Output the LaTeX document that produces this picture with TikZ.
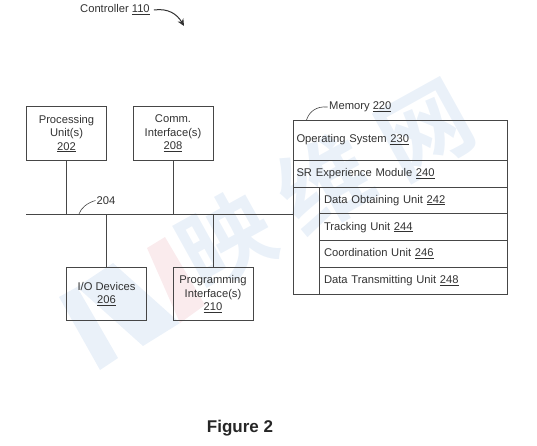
\documentclass[tikz,border=0pt]{standalone}
\usepackage{fontspec}
\setmainfont{Liberation Sans}
\newfontfamily\cjkfont{Noto Sans CJK SC}[BoldFont={* Bold}]
\usetikzlibrary{positioning,arrows.meta}
\definecolor{inkgrey}{RGB}{50,50,50}
\definecolor{linegrey}{RGB}{70,70,70}
\definecolor{markblue}{RGB}{234,241,249}
\definecolor{markpink}{RGB}{250,235,237}
\newcommand{\refnum}[1]{\underline{#1}}

\begin{document}
\begin{tikzpicture}[x=1pt,y=-1pt,
          every node/.style={text=inkgrey,font=\fontsize{11.2}{13.5}\selectfont},
          unitbox/.style={draw=linegrey,line width=0.8pt,minimum width=80pt,
            minimum height=53.5pt,inner sep=0pt,outer sep=0pt,align=center},
          osrow/.style={draw=linegrey,line width=0.8pt,minimum width=214pt,
            minimum height=40pt,inner sep=0pt,outer sep=0pt,inner xsep=3.5pt,
            text width=207pt,align=left},
          subrow/.style={draw=linegrey,line width=0.8pt,minimum width=187.5pt,
            minimum height=26.75pt,inner sep=0pt,outer sep=0pt,inner xsep=4.5pt,
            text width=178.5pt,align=left},
          wire/.style={draw=linegrey,line width=0.8pt},
          leader/.style={draw=linegrey,line width=0.6pt}]
        \useasboundingbox (0,0) rectangle (537,446);

        % watermark
        \fill[markblue] (59,297) -- (77,287) -- (118,358) -- (100,370) -- cycle;
        \fill[markblue] (77,287) -- (113,263) -- (180,323) -- (143,346) -- cycle;
        \fill[markpink] (147,248) -- (165,237) -- (205,305) -- (180,323) -- cycle;
        \node[rotate=29,text=markblue,inner sep=0pt,
            font=\cjkfont\fontsize{92}{92}\selectfont\bfseries]
          (markcn) at (325,184) {映\hspace{22pt}维\hspace{22pt}网};

        \node[unitbox] (proc) at (66.5,133.5)
          {Processing\\Unit(s)\\\refnum{202}};
        \node[unitbox,right=26.5pt of proc] (comm)
          {Comm.\\Interface(s)\\\refnum{208}};
        \node[unitbox] (iodev) at (106.5,294)
          {I/O Devices\\\refnum{206}};
        \node[unitbox,right=26.5pt of iodev] (prog)
          {Programming\\Interface(s)\\\refnum{210}};

        % memory column
        \node[osrow] (os) at (400,140) {Operating System \refnum{230}};
        \node[osrow,below=0pt of os,minimum height=27pt] (srmod)
          {\raisebox{2.5pt}{SR Experience Module \refnum{240}}};
        \node[subrow,anchor=north east] (obtain) at (srmod.south east)
          {Data Obtaining Unit \refnum{242}};
        \node[subrow,below=0pt of obtain] (track) {Tracking Unit \refnum{244}};
        \node[subrow,below=0pt of track] (coord) {Coordination Unit \refnum{246}};
        \node[subrow,below=0pt of coord] (trans)
          {Data Transmitting Unit \refnum{248}};
        \draw[wire] (srmod.south west) -- (srmod.south west |- trans.south)
          -- (trans.south west);

        % bus
        \coordinate (busl) at (26,214);
        \coordinate (busr) at (srmod.west |- busl);
        \draw[wire,line width=1pt] (busl) -- (busr);
        \draw[wire] (proc) -- (proc |- busl);
        \draw[wire] (comm) -- (comm |- busl);
        \draw[wire] (iodev) -- (iodev |- busl);
        \draw[wire] (prog) -- (prog |- busl);

        % labels
        \node[inner sep=1pt] (buslbl) at (106,200.5) {204};
        \coordinate (bustap) at (79,214);
        \draw[leader] (buslbl.west) .. controls (87,203) and (81,208) .. (bustap);

        \node[anchor=west,inner sep=1.5pt] (memlbl) at (327.5,107) {Memory \refnum{220}};
        \draw[leader] (memlbl.west) .. controls (316,106) and (309,112) .. (306.5,120);

        \node[anchor=west,inner sep=1pt] (ctrl) at (79,10) {Controller \refnum{110}};
        \coordinate (ctrltip) at (184,26);
        \draw[line width=1pt,draw=inkgrey,-{Stealth[length=7pt,width=6.5pt]}]
          (ctrl.east) ++(3,0) .. controls (168,8) and (177,14) .. (ctrltip);

        \node[font=\fontsize{17}{20}\selectfont\bfseries,text=black!85] (figlbl)
          at (240,428) {Figure 2};
      \end{tikzpicture}
\end{document}
